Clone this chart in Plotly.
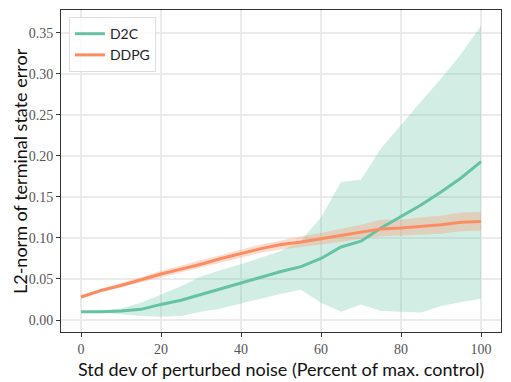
import plotly.graph_objects as go

# noise level (percent of max. control)
noise = [0, 5, 10, 15, 20, 25, 30, 35, 40, 45, 50, 55, 60, 65, 70, 75, 80, 85, 90, 95, 100]

# D2C mean and band
d2c_mean = [0.010, 0.010, 0.011, 0.013, 0.019, 0.024, 0.031, 0.038, 0.045, 0.052, 0.059,
            0.065, 0.075, 0.089, 0.096, 0.112, 0.126, 0.140, 0.156, 0.173, 0.193]
d2c_upper = [0.010, 0.011, 0.014, 0.021, 0.031, 0.041, 0.053, 0.061, 0.068, 0.076, 0.084,
             0.097, 0.125, 0.168, 0.171, 0.209, 0.238, 0.266, 0.294, 0.324, 0.358]
d2c_lower = [0.010, 0.009, 0.007, 0.005, 0.004, 0.005, 0.010, 0.014, 0.020, 0.026, 0.032,
             0.037, 0.021, 0.010, 0.019, 0.011, 0.010, 0.009, 0.017, 0.022, 0.026]

# DDPG mean and band
ddpg_mean = [0.028, 0.036, 0.042, 0.049, 0.056, 0.062, 0.068, 0.075, 0.081, 0.087, 0.092,
             0.095, 0.099, 0.103, 0.107, 0.111, 0.112, 0.114, 0.116, 0.119, 0.120]
ddpg_upper = [0.030, 0.038, 0.045, 0.052, 0.060, 0.066, 0.073, 0.079, 0.086, 0.092, 0.097,
              0.102, 0.106, 0.111, 0.116, 0.122, 0.122, 0.125, 0.127, 0.131, 0.132]
ddpg_lower = [0.026, 0.034, 0.040, 0.046, 0.052, 0.058, 0.064, 0.070, 0.076, 0.082, 0.086,
              0.089, 0.092, 0.095, 0.099, 0.102, 0.103, 0.104, 0.105, 0.108, 0.109]

green = "#66c2a5"
orange = "#fc8d62"

fig = go.Figure()

# shaded bands
fig.add_trace(go.Scatter(x=noise, y=d2c_lower, mode="lines", line=dict(width=0),
                         showlegend=False, hoverinfo="skip"))
fig.add_trace(go.Scatter(x=noise, y=d2c_upper, mode="lines", line=dict(width=0),
                         fill="tonexty", fillcolor="rgba(102,194,165,0.3)",
                         showlegend=False, hoverinfo="skip"))
fig.add_trace(go.Scatter(x=noise, y=ddpg_lower, mode="lines", line=dict(width=0),
                         showlegend=False, hoverinfo="skip"))
fig.add_trace(go.Scatter(x=noise, y=ddpg_upper, mode="lines", line=dict(width=0),
                         fill="tonexty", fillcolor="rgba(252,141,98,0.3)",
                         showlegend=False, hoverinfo="skip"))

# mean lines
fig.add_trace(go.Scatter(x=noise, y=d2c_mean, mode="lines", name="D2C",
                         line=dict(color=green, width=3)))
fig.add_trace(go.Scatter(x=noise, y=ddpg_mean, mode="lines", name="DDPG",
                         line=dict(color=orange, width=3)))

axis_common = dict(
    showgrid=True, gridcolor="#ebebeb", gridwidth=1.5, zeroline=False,
    showline=True, linecolor="#333", linewidth=1, mirror=True,
    ticks="outside", ticklen=4, tickcolor="#333", automargin=False,
    tickfont=dict(family="Liberation Serif", size=14, color="#555"),
)

title_font = dict(family="Lato", size=18, color="#111")

# page body has an 8px margin, so the figure is shrunk by that much
fig.update_layout(
    width=503, height=374,
    margin=dict(l=53, r=10, t=2, b=50),
    plot_bgcolor="white", paper_bgcolor="white",
    xaxis=dict(range=[-5, 105], tickvals=[0, 20, 40, 60, 80, 100], **axis_common),
    yaxis=dict(range=[-0.0146, 0.3776],
               tickvals=[0, 0.05, 0.10, 0.15, 0.20, 0.25, 0.30, 0.35],
               ticktext=["0.00", "0.05", "0.10", "0.15", "0.20", "0.25", "0.30", "0.35"],
               **axis_common),
    legend=dict(x=0.018, y=0.978, xanchor="left", yanchor="top", traceorder="normal",
                bgcolor="rgba(255,255,255,0.8)", bordercolor="#ddd", borderwidth=1,
                font=dict(family="Lato", size=14, color="#222")),
    annotations=[
        dict(text="Std dev of perturbed noise (Percent of max. control)",
             xref="paper", yref="paper", x=0.5, y=0, xanchor="center", yanchor="top",
             yshift=-24, showarrow=False, font=title_font),
        dict(text="L2-norm of terminal state error", textangle=-90,
             xref="paper", yref="paper", x=0, y=0.5, xanchor="center", yanchor="middle",
             xshift=-41, showarrow=False, font=title_font),
    ],
)

fig.write_html("out.html")
